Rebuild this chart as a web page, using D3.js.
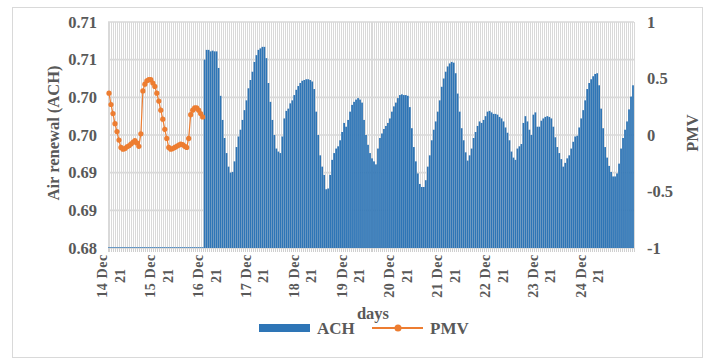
<!DOCTYPE html>
<html>
<head>
<meta charset="utf-8">
<script src="https://cdn.jsdelivr.net/npm/d3@7"></script>
<style>
  body { margin: 0; background: #fff; }
  svg { display: block; }
  text { font-family: "Liberation Serif", "Times New Roman", serif; font-weight: bold; fill: #595959; }
</style>
</head>
<body>
<svg id="chart" width="709" height="360"></svg>
<script>
// Day labels on the category axis (one category per hour)
const days = ["14 Dec 21", "15 Dec 21", "16 Dec 21", "17 Dec 21", "18 Dec 21", "19 Dec 21",
              "20 Dec 21", "21 Dec 21", "22 Dec 21", "23 Dec 21", "24 Dec 21"];
const hoursPerDay = 24;

// Hourly air renewal (ACH)
const ach = [
  // 14 Dec
  0.6801,0.6801,0.6801,0.6801,0.6801,0.6801,0.6801,0.6801,0.6801,0.6801,0.6801,0.6801,
  0.6801,0.6801,0.6801,0.6801,0.6801,0.6801,0.6801,0.6801,0.6801,0.6801,0.6801,0.6801,
  // 15 Dec
  0.6801,0.6801,0.6801,0.6801,0.6801,0.6801,0.6801,0.6801,0.6801,0.6801,0.6801,0.6801,
  0.6801,0.6801,0.6801,0.6801,0.6801,0.6801,0.6801,0.6801,0.6801,0.6801,0.6801,0.6801,
  // 16 Dec onwards
  0.7050,0.7063,0.7063,0.7061,0.7062,0.7061,0.7061,0.7039,0.7002,0.6970,
  0.6946,0.6926,0.6908,0.6900,0.6901,0.6915,0.6934,0.6948,0.6957,0.6970,
  0.6983,0.6996,0.7012,0.7023,0.7034,0.7047,0.7056,0.7063,0.7065,0.7067,
  0.7067,0.7052,0.7019,0.6994,0.6970,0.6950,0.6932,0.6928,0.6926,0.6948,
  0.6972,0.6982,0.6985,0.6992,0.6996,0.7003,0.7010,0.7015,0.7019,0.7022,
  0.7023,0.7024,0.7024,0.7023,0.7021,0.7011,0.6981,0.6950,0.6923,0.6908,
  0.6897,0.6878,0.6879,0.6897,0.6917,0.6926,0.6932,0.6935,0.6943,0.6954,
  0.6966,
  0.6961,0.6970,0.6981,0.6990,0.6994,0.6997,0.6999,0.6997,0.6993,0.6970,
  0.6950,0.6937,0.6926,0.6919,0.6915,0.6911,0.6932,0.6946,0.6952,0.6958,
  0.6962,0.6966,0.6972,0.6981,0.6988,0.6993,0.6999,0.7003,0.7004,0.7003,
  0.7003,0.7002,0.6987,0.6959,0.6934,0.6915,0.6899,0.6885,0.6881,0.6881,
  0.6890,0.6908,0.6923,0.6943,0.6957,0.6968,0.6981,0.6996,0.7014,0.7025,
  0.7034,0.7041,0.7045,0.7047,0.7046,0.7032,0.7005,0.6981,0.6959,0.6943,
  0.6927,0.6916,0.6923,0.6932,0.6946,0.6954,0.6962,0.6968,0.6966,0.6970,
  0.6975,
  0.6981,0.6982,0.6980,0.6978,0.6978,0.6977,0.6974,0.6972,0.6968,0.6960,
  0.6953,0.6943,0.6928,0.6920,0.6917,0.6932,0.6935,0.6938,0.6966,0.6975,
  0.6968,0.6957,0.6950,0.6977,0.6980,0.6961,0.6961,0.6969,0.6972,0.6974,
  0.6975,0.6974,0.6972,0.6961,0.6947,0.6934,0.6926,0.6918,0.6908,0.6913,
  0.6919,0.6923,0.6932,0.6941,0.6948,0.6949,0.6960,0.6972,0.6983,0.6996,
  0.7011,0.7019,0.7024,0.7028,0.7031,0.7032,0.7016,0.6985,0.6959,0.6934,
  0.6920,0.6909,0.6901,0.6895,0.6895,0.6899,0.6912,0.6932,0.6946,0.6957,
  0.6968,0.6984,0.7001,0.7016
];

// Hourly PMV, 14 Dec to 15 Dec
const pmv = [
  0.37,0.27,0.19,0.10,0.03,-0.045,-0.11,-0.125,-0.12,-0.105,
  -0.095,-0.08,-0.065,-0.05,-0.07,-0.10,0.01,0.39,0.45,0.48,
  0.49,0.49,0.46,0.43,0.37,0.30,0.22,0.14,0.05,-0.03,
  -0.11,-0.125,-0.12,-0.11,-0.10,-0.09,-0.08,-0.085,-0.10,-0.11,
  -0.03,0.18,0.22,0.24,0.24,0.22,0.19,0.16
];

const achTicks = [0.68, 0.685, 0.69, 0.695, 0.70, 0.705, 0.71];
const achTickLabels = ["0.68", "0.69", "0.69", "0.70", "0.70", "0.71", "0.71"];
const pmvTicks = [-1, -0.5, 0, 0.5, 1];
const pmvTickLabels = ["-1", "-0.5", "0", "0.5", "1"];

const colors = { ach: "#2e75b6", pmv: "#ed7d31", grid: "#d9d9d9", text: "#595959" };

const svg = d3.select("#chart");
const plot = { left: 108, right: 634, top: 22, bottom: 248 };

// Outer chart frame
svg.append("rect")
  .attr("x", 12.5).attr("y", 7.5).attr("width", 690).attr("height", 350)
  .attr("fill", "#fff").attr("stroke", colors.grid).attr("stroke-width", 1);

const categories = d3.range(days.length * hoursPerDay);
const x = d3.scaleBand().domain(categories).range([plot.left, plot.right]).paddingInner(0.12).paddingOuter(0.06);
const yA = d3.scaleLinear().domain([0.68, 0.71]).range([plot.bottom, plot.top]);
const yP = d3.scaleLinear().domain([-1, 1]).range([plot.bottom, plot.top]);

const step = (plot.right - plot.left) / categories.length;
const boundaries = d3.range(categories.length + 1).map(i => plot.left + i * step);

// Vertical gridlines between hourly categories
svg.append("g").selectAll("line").data(boundaries).join("line")
  .attr("x1", d => d).attr("x2", d => d)
  .attr("y1", plot.top).attr("y2", plot.bottom)
  .attr("stroke", colors.grid).attr("stroke-width", 1)
  .attr("shape-rendering", "crispEdges");

// Horizontal gridlines
svg.append("g").selectAll("line").data(achTicks).join("line")
  .attr("x1", plot.left).attr("x2", plot.right)
  .attr("y1", d => yA(d)).attr("y2", d => yA(d))
  .attr("stroke", colors.grid).attr("stroke-width", 1.6);

// Category axis tick marks
svg.append("g").selectAll("line").data(boundaries).join("line")
  .attr("x1", d => d).attr("x2", d => d)
  .attr("y1", plot.bottom).attr("y2", plot.bottom + 4)
  .attr("stroke", "#d0d0d0").attr("stroke-width", 1)
  .attr("shape-rendering", "crispEdges");

// ACH bars
svg.append("g").selectAll("rect").data(ach.map((v, i) => ({ v, i })).filter(d => d.v != null)).join("rect")
  .attr("x", d => x(d.i))
  .attr("width", x.bandwidth())
  .attr("y", d => yA(d.v))
  .attr("height", d => yA(0.68) - yA(d.v))
  .attr("fill", colors.ach);

// PMV line with markers
const pmvPts = pmv.map((v, i) => ({ v, i }));
const cx = d => x(d.i) + x.bandwidth() / 2;
svg.append("path")
  .datum(pmvPts)
  .attr("fill", "none")
  .attr("stroke", colors.pmv)
  .attr("stroke-width", 1.2)
  .attr("d", d3.line().x(cx).y(d => yP(d.v)));
svg.append("g").selectAll("circle").data(pmvPts).join("circle")
  .attr("cx", cx).attr("cy", d => yP(d.v)).attr("r", 2.6)
  .attr("fill", colors.pmv);

// Left axis labels
svg.append("g").selectAll("text").data(achTicks).join("text")
  .attr("x", 97).attr("y", d => yA(d)).attr("dy", "0.35em")
  .attr("text-anchor", "end").attr("font-size", 16.5)
  .text((d, i) => achTickLabels[i]);

// Right axis labels
svg.append("g").selectAll("text").data(pmvTicks).join("text")
  .attr("x", 647).attr("y", d => yP(d)).attr("dy", "0.35em")
  .attr("text-anchor", "start").attr("font-size", 16.5)
  .text((d, i) => pmvTickLabels[i]);

// Day labels (two lines, rotated)
const dayIdx = days.map((d, k) => k * hoursPerDay);
const dayG = svg.append("g").selectAll("g").data(dayIdx).join("g")
  .attr("transform", d => `translate(${x(d) + x.bandwidth() / 2 + 1.5},276) rotate(-90)`);
dayG.each(function (d, k) {
  const parts = days[k].split(" ");
  const g = d3.select(this);
  g.append("text").attr("x", 0).attr("y", -3).attr("text-anchor", "middle").attr("font-size", 14)
    .attr("letter-spacing", 0.6)
    .text(parts[0] + " " + parts[1]);
  g.append("text").attr("x", 0).attr("y", 14.5).attr("text-anchor", "middle").attr("font-size", 14)
    .text(parts[2]);
});

// Axis titles
svg.append("text")
  .attr("transform", "translate(59,133) rotate(-90)")
  .attr("text-anchor", "middle").attr("font-size", 16.5)
  .text("Air renewal (ACH)");
svg.append("text")
  .attr("transform", "translate(698,133) rotate(-90)")
  .attr("text-anchor", "middle").attr("font-size", 16.5)
  .text("PMV");
svg.append("text")
  .attr("x", 373).attr("y", 319)
  .attr("text-anchor", "middle").attr("font-size", 16.5)
  .text("days");

// Legend
const lg = svg.append("g");
lg.append("rect").attr("x", 259).attr("y", 324).attr("width", 51).attr("height", 8).attr("fill", colors.ach);
lg.append("text").attr("x", 317).attr("y", 334).attr("font-size", 17).text("ACH");
lg.append("line").attr("x1", 372).attr("x2", 423).attr("y1", 328).attr("y2", 328)
  .attr("stroke", colors.pmv).attr("stroke-width", 2);
lg.append("circle").attr("cx", 398).attr("cy", 328).attr("r", 3.5).attr("fill", colors.pmv);
lg.append("text").attr("x", 430).attr("y", 334).attr("font-size", 17).text("PMV");
</script>
</body>
</html>
